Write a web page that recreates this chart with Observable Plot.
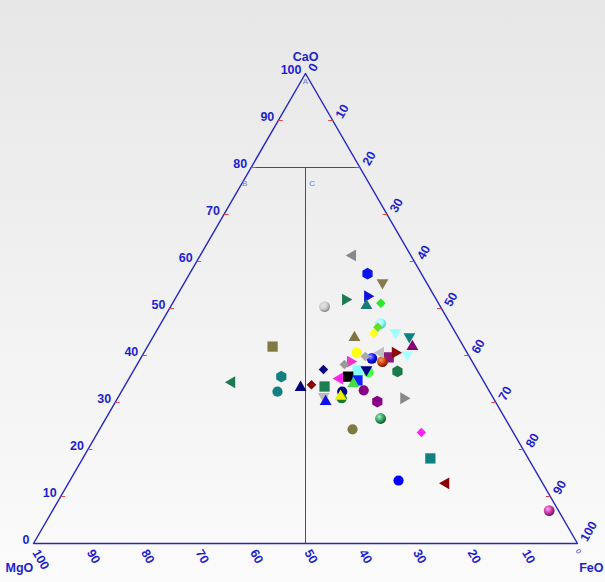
<!DOCTYPE html>
<html><head><meta charset="utf-8">
<script src="https://cdn.jsdelivr.net/npm/d3@7"></script>
<script src="https://cdn.jsdelivr.net/npm/@observablehq/plot@0.6"></script>
<style>body{margin:0;background:#fff;}</style>
</head><body><div id="chart"></div>
<script>
// ---- Data (ternary percentages) ----
const cao = [61.3,57.4,55.5,51.9,52.6,50.6,51.1,50.4,46.0,44.7,46.8,44.9,43.8,44.0,41.9,40.6,40.6,40.6,40.2,39.6,39.8,39.4,38.7,38.1,38.7,37.0,36.6,36.8,37.0,36.4,35.5,34.3,35.1,35.5,34.7,34.0,33.2,33.8,33.4,32.3,32.3,30.9,31.3,31.3,30.2,32.6,30.2,30.9,26.6,24.3,23.6,18.1,13.4,12.8,7.0,41.9];
const feo = [28.0,32.7,36.4,31.4,35.1,35.9,38.3,28.3,40.3,40.2,40.4,44.1,37.1,47.1,48.7,39.1,43.5,46.2,48.6,45.5,41.1,42.5,44.8,38.1,38.9,34.8,48.6,41.2,42.7,43.4,27.8,19.3,38.7,40.1,42.2,41.8,32.5,34.2,36.8,28.7,40.6,41.2,40.8,37.7,38.6,44.4,48.1,52.6,50.5,46.5,59.5,63.9,60.4,69.4,91.3,23.0];
const mgo = [10.7,9.9,8.1,16.7,12.3,13.5,10.6,21.3,13.7,15.1,12.8,11.0,19.1,8.9,9.4,20.3,15.9,13.2,11.2,14.9,19.1,18.1,16.5,23.8,22.4,28.2,14.8,22.0,20.3,20.2,36.7,46.4,26.2,24.4,23.1,24.2,34.3,32.0,29.8,39.0,27.1,27.9,27.9,31.0,31.2,23.0,21.7,16.5,22.9,29.2,16.9,18.0,26.2,17.8,1.7,35.1];
const shapes = ["left","hexagon","down","right","right","up","diamond","sphere","diamond","diamond","sphere","down","up","down","up","circle","left","right","down","square","diamond","sphere","sphere","diamond","right","diamond","hexagon","square","down","circle","hexagon","left","left","square","square","up","up","diamond","square","circle","circle","circle","up","down","up","circle","hexagon","right","sphere","circle","diamond","square","circle","left","sphere","square"];
const colors = ["#888888","#0a14f0","#877a4e","#1d7a50","#1010e0","#1a7a78","#22ee22","url(#gGray)","#66dd22","#ffff22","url(#gCyan)","#99ffff","#807444","#138080","#880077","#ffff11","#c0c0c0","#8b0a0a","#aaffff","#8a1a7a","#aaaaaa","url(#gBlue)","url(#gOrange)","#999999","#ee33cc","#0a0a80","#1a7a4a","#88ffff","#000088","#44ff44","#138080","#1d7a50","#ff22ee","#000000","#1020ff","#44dd44","#000080","#8b0000","#1e8050","#138080","#000088","#1e7a2e","#eeee00","#bbbbbb","#1010ee","#880088","#880088","#888888","url(#gGreen)","#7f7a3f","#ff22ff","#138080","#0000ff","#8b0000","url(#gMagenta)","#807a40"];

const axisTicks = [0,10,20,30,40,50,60,70,80,90,100];
const innerTicks = [10,20,30,40,50,60,70,80,90];
const corners = [{cao:0,feo:0},{cao:0,feo:100},{cao:100,feo:0},{cao:0,feo:0}];
const boundaries = [
  [{cao:80,feo:0},{cao:80,feo:20}],
  [{cao:80,feo:10},{cao:0,feo:50}]
];
const regionLabels = [{t:"A",cao:98.4,feo:0.8},{t:"B",cao:76.6,feo:0.5},{t:"C",cao:76.6,feo:12.9}];

// ---- ternary -> cartesian ----
const S = Math.sqrt(3)/2;
const tx = d => d.feo/100 + d.cao/200;
const ty = d => d.cao/100*S;

const rows = cao.map((c,i)=>({cao:c, feo:feo[i], mgo:mgo[i], shape:shapes[i], color:colors[i]}));
const SYM = {circle:"circle",sphere:"circle",square:"square",diamond:"square",hexagon:"hexagon",up:"triangle",down:"triangle",left:"triangle",right:"triangle"};
const ROT = {diamond:45,up:0,down:180,left:-90,right:90,circle:0,sphere:0,square:0,hexagon:0};
const RAD = {circle:5.1,sphere:5.4,square:5.8,diamond:3.8,hexagon:5.1,up:4.4,down:4.4,left:4.4,right:4.4};

const BLUE = "#1f1fcf";
const tickR = {draw(ctx){ctx.moveTo(0,0);ctx.lineTo(4.5,0);}};
const tickL = {draw(ctx){ctx.moveTo(0,0);ctx.lineTo(-4.5,0);}};

const gradients = [
  ["gBlue",["#a0a0ff","#1818f0","#000090"]],
  ["gOrange",["#ffa060","#d04010","#7a1800"]],
  ["gGreen",["#a8f0c4","#33aa66","#0f5a30"]],
  ["gMagenta",["#ffa8ee","#cc3aaa","#6a1a5a"]],
  ["gCyan",["#f4ffff","#88ffff","#50d0d0"]],
  ["gGray",["#e4e4e4","#d0d0d0","#8a8a8a"]]
];
const defsMark = () => {
  const g = d3.create("svg:g");
  const defs = g.append("defs");
  for (const [id, st] of gradients) {
    const rg = defs.append("radialGradient").attr("id", id).attr("cx","38%").attr("cy","35%").attr("r","65%");
    rg.append("stop").attr("offset","0%").attr("stop-color", st[0]);
    rg.append("stop").attr("offset","55%").attr("stop-color", st[1]);
    rg.append("stop").attr("offset","100%").attr("stop-color", st[2]);
  }
  return g.node();
};

const txtStyle = {fill: BLUE, fontWeight: "bold", fontSize: 12.5};

const chart = Plot.plot({
  width: 605, height: 582,
  marginLeft: 33, marginRight: 28, marginTop: 73, marginBottom: 39,
  x: {domain: [0,1], axis: null},
  y: {domain: [0,S], axis: null},
  r: {type: "identity"},
  color: {type: "identity"},
  style: {background: "linear-gradient(#e7e7e7, #fbfbfb)", fontFamily: "Liberation Sans, Arial, sans-serif", overflow: "visible"},
  marks: [
    defsMark,
    // region boundaries
    ...boundaries.map(b => Plot.line(b, {x: tx, y: ty, stroke: "#3a3af2", strokeWidth: 1})),
    // triangle frame
    Plot.line(corners, {x: tx, y: ty, stroke: "#2525c8", strokeWidth: 1.4}),
    // red ticks
    Plot.dot(innerTicks, {x: v => v/200, y: v => v/100*S, symbol: tickR, stroke: "#e04848", fill: "none", strokeWidth: 1}),
    Plot.dot(innerTicks, {x: v => v/100 + (100-v)/200, y: v => (100-v)/100*S, symbol: tickL, stroke: "#e04848", fill: "none", strokeWidth: 1}),
    // left labels (CaO)
    Plot.text(axisTicks, {x: v => v/200, y: v => v/100*S, text: v => String(v), textAnchor: "end", dx: -4, dy: -4, ...txtStyle}),
    // right labels (FeO)
    Plot.text(axisTicks, {x: v => v/100 + (100-v)/200, y: v => (100-v)/100*S, text: v => String(v), textAnchor: "start", rotate: -60, dx: 6, dy: -3, ...txtStyle}),
    // bottom labels (MgO)
    Plot.text(axisTicks.filter(v => v > 0), {x: v => (100-v)/100, y: 0, text: v => String(v), textAnchor: "start", rotate: 60, dx: 2, dy: 7, ...txtStyle}),
    Plot.text([0], {x: 1, y: 0, text: v => String(v), textAnchor: "start", rotate: 60, dx: 0, dy: 6, fill: BLUE, fontSize: 7}),
    // region labels
    Plot.text(regionLabels, {x: tx, y: ty, text: "t", fill: "#6a7ad0", fontSize: 8}),
    // corner titles
    Plot.text([{cao:100,feo:0}], {x: tx, y: ty, text: () => "CaO", dy: -17, ...txtStyle}),
    Plot.text([{cao:0,feo:0}], {x: tx, y: ty, text: () => "MgO", textAnchor: "start", dx: -28, dy: 24, ...txtStyle}),
    Plot.text([{cao:0,feo:100}], {x: tx, y: ty, text: () => "FeO", textAnchor: "end", dx: 26, dy: 24, ...txtStyle}),
    // data points
    Plot.dot(rows, {x: tx, y: ty, symbol: d => SYM[d.shape], rotate: d => ROT[d.shape], r: d => RAD[d.shape], fill: d => d.color, stroke: "none"})
  ]
});
document.getElementById("chart").appendChild(chart);
</script>
</body></html>
